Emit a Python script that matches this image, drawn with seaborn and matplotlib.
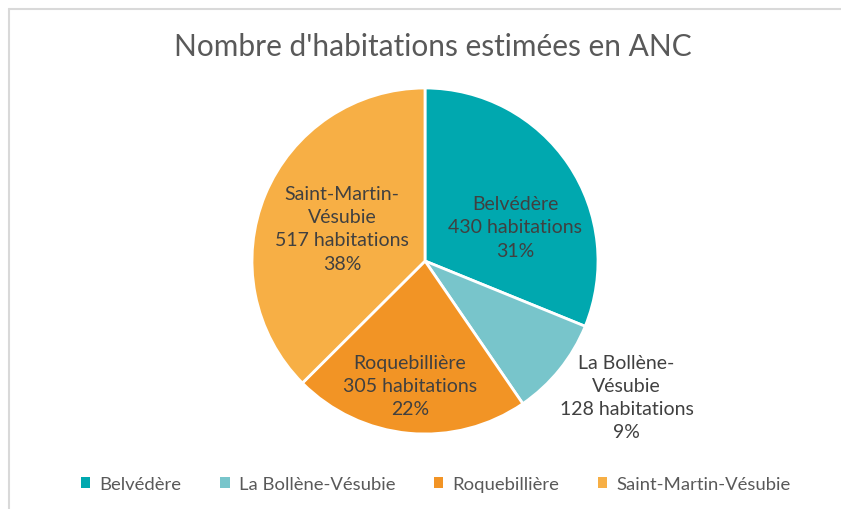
import matplotlib
matplotlib.use("Agg")
import math
import matplotlib.pyplot as plt
import seaborn as sns
from matplotlib.patches import Patch
from matplotlib.lines import Line2D

communes = ["Belvédère", "La Bollène-Vésubie", "Roquebillière", "Saint-Martin-Vésubie"]
label_names = ["Belvédère", "La Bollène-\nVésubie", "Roquebillière", "Saint-Martin-\nVésubie"]
habitations = [430, 128, 305, 517]
colors = ["#00A8AF", "#78C5CB", "#F29425", "#F7AF45"]

# label anchor positions in pie coordinates (radius = 1)
label_pos = [(0.52, 0.197), (1.165, -0.786), (-0.087, -0.72), (-0.48, 0.19)]


def rounded_percentages(values):
    """Whole percentages that add up to 100 (largest remainder)."""
    total = sum(values)
    raw = [100 * v / total for v in values]
    floors = [math.floor(p) for p in raw]
    order = sorted(range(len(raw)), key=lambda i: raw[i] - floors[i], reverse=True)
    for i in order[:100 - sum(floors)]:
        floors[i] += 1
    return floors


sns.set_theme(style="white")
plt.rcParams["font.family"] = ["Lato", "DejaVu Sans"]

fig = plt.figure(figsize=(8.41, 5.10), dpi=100)
fig.patch.set_facecolor("white")

cx, cy, r = 425, 262, 173
W, H = 841, 510
ax = fig.add_axes([(cx - r) / W, (H - cy - r) / H, 2 * r / W, 2 * r / H])

wedges, _ = ax.pie(habitations, colors=colors, startangle=90, counterclock=False,
                   radius=1, wedgeprops=dict(edgecolor="white", linewidth=2))
ax.set_xlim(-1, 1)
ax.set_ylim(-1, 1)
ax.set_aspect("equal")
ax.axis("off")

pcts = rounded_percentages(habitations)
for name, val, pct, (x, y) in zip(label_names, habitations, pcts, label_pos):
    ax.text(x, y, f"{name}\n{val} habitations\n{pct}%", ha="center", va="center",
            fontsize=14, color="#404040", linespacing=1.45)

fig.text(433 / W, 1 - 47 / H, "Nombre d'habitations estimées en ANC",
         ha="center", va="center", fontsize=21.5, color="#595959")

handles = [Patch(facecolor=c, edgecolor="none") for c in colors]
leg = fig.legend(handles, communes, loc="center", bbox_to_anchor=(436 / W, 1 - 485 / H),
                 ncol=4, frameon=False, fontsize=13.3, handlelength=0.5, handleheight=0.5,
                 handletextpad=0.5, columnspacing=2.1)
for t in leg.get_texts():
    t.set_color("#595959")

# chart frame
fig.add_artist(Line2D([8.5 / W, 8.5 / W], [0, 1 - 9.5 / H], transform=fig.transFigure,
                      color="#D9D9D9", linewidth=1.5))
fig.add_artist(Line2D([8.5 / W, 1], [1 - 9.5 / H, 1 - 9.5 / H], transform=fig.transFigure,
                      color="#D9D9D9", linewidth=1.5))

fig.savefig("out.png", dpi=100, facecolor="white")
